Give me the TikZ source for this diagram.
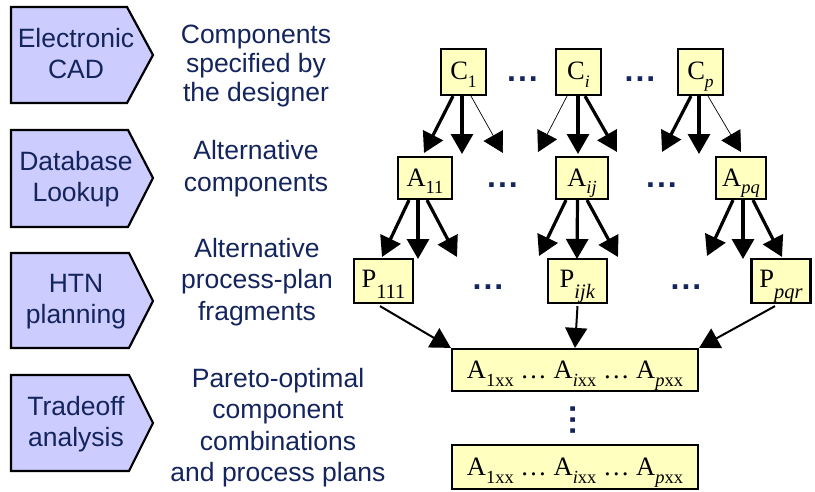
\documentclass[tikz,border=0pt]{standalone}
\usepackage{fontspec}
\setmainfont{Liberation Serif}
\newfontfamily\sansf{Liberation Sans}
\usetikzlibrary{arrows.meta,calc}
\definecolor{navy}{RGB}{20,36,92}
\definecolor{lav}{RGB}{204,204,255}
\definecolor{ylw}{RGB}{255,255,192}
% #1 size, #2 drop, #3 text
\newcommand\mysub[3]{\raisebox{-#2pt}{\fontsize{#1}{#1}\selectfont #3}}
\tikzset{
  stage/.style={draw=black, line width=2.2pt, fill=lav, line join=miter},
  lbl/.style={text=navy, font=\sansf\fontsize{26.5}{31.5}\selectfont, align=center, inner sep=0pt, anchor=north},
  lblone/.style={text=navy, font=\sansf\fontsize{26.5}{29}\selectfont, align=center, inner sep=0pt, anchor=north},
  box/.style={draw=black, line width=2.2pt, fill=ylw, inner sep=0pt, font=\fontsize{26.5}{30}\selectfont, text height=17.5pt},
  arr/.style={line width=3.2pt, -{Triangle[length=20pt,width=22pt]}},
  thinarr/.style={line width=0.7pt, -{Triangle[length=20pt,width=22pt]}},
  parr/.style={line width=2pt, -{Triangle[length=20pt,width=22pt]}},
  dotrow/.style={text=navy, font=\sansf\bfseries\fontsize{32}{32}\selectfont, inner sep=0pt, anchor=center},
}
\begin{document}
\begin{tikzpicture}[x=1pt,y=-1pt]
\useasboundingbox (0,0) rectangle (815,491);
% stage arrows
\draw[stage] (11,7) -- (127,7) -- (153,55) -- (127,103) -- (11,103) -- cycle;
\draw[stage] (11,130) -- (128,130) -- (153,178) -- (128,227) -- (11,227) -- cycle;
\draw[stage] (11,253) -- (129,253) -- (153,301) -- (129,348) -- (11,348) -- cycle;
\draw[stage] (11,375) -- (129,375) -- (153,423) -- (129,471) -- (11,471) -- cycle;
\node[lbl] (s1) at (76,25) {\strut Electronic\\CAD\strut};
\node[lbl] (s2) at (76,148) {\strut Database\\Lookup\strut};
\node[lbl] (s3) at (76,270) {\strut HTN\\planning\strut};
\node[lbl] (s4) at (76,393) {\strut Tradeoff\\analysis\strut};
% descriptions
\node[lblone] (d1) at (256,22.7) {\strut Components\\specified by\\the designer\strut};
\node[lbl] (d2) at (256,137.5) {\strut Alternative\\components\strut};
\node[lbl] (d3) at (257,235) {\strut Alternative\\process-plan\\fragments\strut};
\node[lbl] (d4) at (278,365) {\strut Pareto-optimal\\component\\combinations\\and process plans\strut};
% boxes
\node[box, text depth=2.5pt, minimum width=45pt, minimum height=46pt] (C1) at (463.5,72) {C\mysub{17.5}{7.5}{1}};
\node[box, text depth=2.5pt, minimum width=45pt, minimum height=46pt] (Ci) at (578.5,72) {C\mysub{17.5}{7.5}{\textit{i}}};
\node[box, text depth=2.5pt, minimum width=45pt, minimum height=46pt] (Cp) at (700.5,72) {C\mysub{17.5}{7.5}{\textit{p}}};
\node[box, text depth=0pt, minimum width=54pt, minimum height=42pt] (A11) at (425,178) {A\mysub{18.5}{6.5}{11}};
\node[box, text depth=0pt, minimum width=52pt, minimum height=42pt] (Aij) at (582,178) {A\mysub{18.5}{6.5}{\textit{ij}}};
\node[box, text depth=0pt, minimum width=50pt, minimum height=42pt] (Apq) at (741,178) {A\mysub{18.5}{6.5}{\textit{pq}}};
\node[box, text depth=4.5pt, minimum width=59pt, minimum height=44pt] (P111) at (383.5,281) {P\mysub{20.5}{11}{111}};
\node[box, text depth=4.5pt, minimum width=59pt, minimum height=44pt] (Pijk) at (577.5,281) {P\mysub{20.5}{11}{\textit{ijk}}};
\node[box, text depth=4.5pt, minimum width=59pt, minimum height=44pt] (Ppqr) at (781,281) {P\mysub{20.5}{11}{\textit{pqr}}};
\node[box, text depth=0pt, minimum width=246pt, minimum height=42pt] (B1) at (575,370) {A\mysub{18.5}{8}{1xx} \ldots{} A\mysub{18.5}{8}{\textit{i}xx} \ldots{} A\mysub{18.5}{8}{\textit{p}xx}};
\node[box, text depth=0pt, minimum width=246pt, minimum height=44pt] (B2) at (575,467) {A\mysub{18.5}{8}{1xx} \ldots{} A\mysub{18.5}{8}{\textit{i}xx} \ldots{} A\mysub{18.5}{8}{\textit{p}xx}};
% dots
\node[dotrow] (dc1) at (522.5,79.5) {.\hspace{2pt}.\hspace{2pt}.};
\node[dotrow] (dc2) at (640,79.5) {.\hspace{2pt}.\hspace{2pt}.};
\node[dotrow] (da1) at (502.5,185.5) {.\hspace{2pt}.\hspace{2pt}.};
\node[dotrow] (da2) at (661.5,185.5) {.\hspace{2pt}.\hspace{2pt}.};
\node[dotrow] (dp1) at (488,287.5) {.\hspace{2pt}.\hspace{2pt}.};
\node[dotrow] (dp2) at (686,287.5) {.\hspace{2pt}.\hspace{2pt}.};
\node[dotrow, rotate=90] (dv) at (573,420) {.\hspace{2pt}.\hspace{2pt}.};
% arrow tips
\coordinate (t1a) at (424,153); \coordinate (t1b) at (462,154); \coordinate (t1c) at (503,153);
\coordinate (tia) at (538,152); \coordinate (tib) at (578,154); \coordinate (tic) at (617,152);
\coordinate (tpa) at (662,152); \coordinate (tpb) at (699,154); \coordinate (tpc) at (741,152);
\coordinate (u1a) at (382,257); \coordinate (u1b) at (418,259); \coordinate (u1c) at (457,257);
\coordinate (uia) at (539,256); \coordinate (uib) at (577,259); \coordinate (uic) at (618,257);
\coordinate (upa) at (707,256); \coordinate (upb) at (743,259); \coordinate (upc) at (782,257);
% C row arrows
\draw[arr] ([xshift=-10.5pt]C1.south) -- (t1a);
\draw[arr] ([xshift=-1.5pt]C1.south) -- (t1b);
\draw[thinarr] ([xshift=7.5pt]C1.south) -- (t1c);
\draw[thinarr] ([xshift=-11.5pt]Ci.south) -- (tia);
\draw[arr] ([xshift=-0.5pt]Ci.south) -- (tib);
\draw[arr] ([xshift=6.5pt]Ci.south) -- (tic);
\draw[arr] ([xshift=-9.5pt]Cp.south) -- (tpa);
\draw[arr] ([xshift=-1.5pt]Cp.south) -- (tpb);
\draw[thinarr] ([xshift=7.5pt]Cp.south) -- (tpc);
% A row arrows
\draw[arr] ([xshift=-16pt]A11.south) -- (u1a);
\draw[arr] ([xshift=-7pt]A11.south) -- (u1b);
\draw[arr] ([xshift=2pt]A11.south) -- (u1c);
\draw[arr] ([xshift=-16pt]Aij.south) -- (uia);
\draw[arr] ([xshift=-4.5pt]Aij.south) -- (uib);
\draw[arr] ([xshift=5pt]Aij.south) -- (uic);
\draw[arr] ([xshift=-8pt]Apq.south) -- (upa);
\draw[arr] ([xshift=2pt]Apq.south) -- (upb);
\draw[arr] ([xshift=12pt]Apq.south) -- (upc);
% P row arrows
\draw[parr] ([xshift=-3.5pt,yshift=-2pt]P111.south) -- (B1.north west);
\draw[parr] ([yshift=-2pt]Pijk.south) -- (B1.north);
\draw[parr] ([xshift=-6pt,yshift=-2pt]Ppqr.south) -- (B1.north east);
\end{tikzpicture}
\end{document}
